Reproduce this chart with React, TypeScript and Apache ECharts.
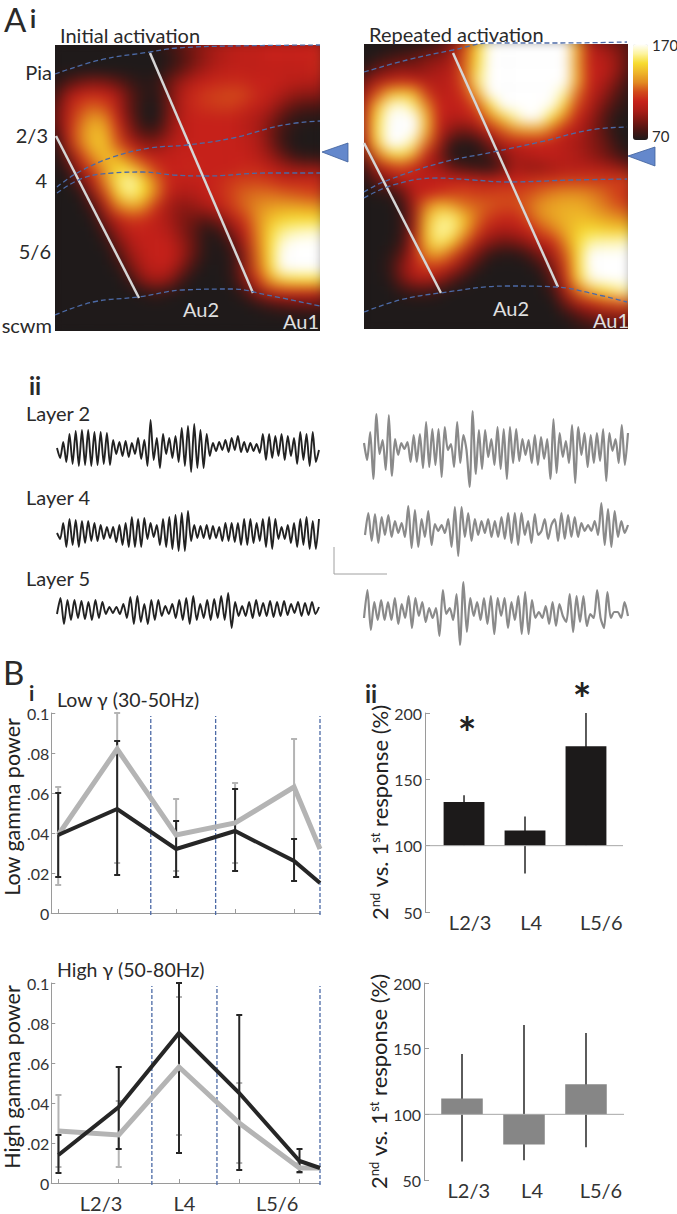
import React, { useEffect, useRef } from "react";
import * as echarts from "echarts";

const FONT = "Lato";
const heatColors = ["#1f1a1a","#4a1512","#7a1712","#a81c16","#c6211a","#d24a1a","#e28a20","#eeb428","#f7dc30","#fdf4a0","#ffffff"];

const heatInitial: number[][] = [
[70,70,70,70,70,70,70,70,72,78,85,92,98,102,106,108,108,110,110,110,110,110],
[70,70,70,70,70,70,70,70,70,72,80,88,96,102,106,108,108,110,110,110,110,112],
[70,70,70,70,70,70,70,70,70,76,84,94,100,106,108,108,108,108,108,108,108,112],
[72,80,88,92,90,84,76,72,74,86,98,106,110,112,112,112,110,110,108,106,104,104],
[78,98,110,112,110,100,84,74,72,88,104,112,116,118,120,118,112,108,102,96,94,94],
[84,104,118,124,120,104,84,72,70,88,104,112,114,116,116,112,108,102,92,84,80,80],
[86,106,124,136,130,110,88,72,70,90,106,110,110,110,110,106,102,94,82,74,72,72],
[80,106,128,142,138,116,94,80,80,94,106,110,110,110,110,106,102,90,78,72,70,70],
[72,100,126,142,142,122,106,96,94,102,108,110,110,110,110,108,104,92,78,70,70,70],
[70,88,114,132,142,138,124,112,108,108,110,110,110,110,110,110,106,98,88,78,74,74],
[70,76,100,118,136,150,146,130,116,110,110,112,110,110,110,112,112,108,102,98,96,98],
[70,70,86,106,130,154,162,150,128,112,108,108,110,112,116,118,118,116,112,112,112,112],
[70,70,72,94,120,148,158,150,128,108,102,104,108,112,118,124,126,126,124,122,120,118],
[70,70,70,80,104,128,138,132,114,100,94,96,102,108,116,124,130,134,136,136,134,132],
[70,70,70,72,92,108,116,114,108,100,92,88,84,92,104,116,130,142,148,150,150,150],
[70,70,70,70,80,98,108,110,108,104,94,84,72,76,92,108,128,148,158,162,164,164],
[70,70,70,70,72,88,102,108,110,108,98,86,72,70,80,100,126,150,166,170,170,170],
[70,70,70,70,70,80,96,106,110,110,100,84,72,70,74,94,124,150,170,170,170,170],
[70,70,70,70,70,72,88,102,108,106,92,76,70,70,74,94,122,148,168,170,170,170],
[70,70,70,70,70,70,76,92,98,94,78,70,70,70,72,90,112,132,146,150,150,150],
[70,70,70,70,70,70,70,72,76,72,70,70,70,70,70,76,92,104,110,110,108,106],
[70,70,70,70,70,70,70,70,70,70,70,70,70,70,70,70,72,76,80,82,84,84],
[70,70,70,70,70,70,70,70,70,70,70,70,70,70,70,70,70,70,70,70,70,70],
[70,70,70,70,70,70,70,70,70,70,70,70,70,70,70,70,70,70,70,70,70,70],
];

const heatRepeated: number[][] = [
[70,70,70,70,70,72,80,92,118,146,168,170,170,170,170,170,170,136,104,96,90,84],
[70,72,76,80,84,90,92,100,122,150,170,170,170,170,170,170,170,136,108,104,96,84],
[74,84,90,94,92,96,100,104,124,152,170,170,170,170,170,170,170,136,110,108,98,84],
[90,100,108,112,110,104,104,108,122,156,170,170,170,170,170,170,170,138,110,104,92,78],
[100,120,140,146,140,116,106,108,116,140,170,170,170,170,170,170,160,126,108,98,84,74],
[108,140,162,168,156,130,110,108,110,122,150,170,170,170,170,168,146,118,104,90,78,72],
[112,150,170,170,170,142,110,104,106,112,128,146,160,170,168,150,128,110,98,84,72,70],
[112,152,170,170,170,140,108,94,88,96,110,122,132,136,136,124,110,104,94,84,72,70],
[108,146,170,170,158,126,100,76,72,74,90,104,108,110,110,108,104,100,94,88,76,70],
[92,124,146,152,136,110,92,72,70,72,78,92,100,104,108,108,106,102,96,90,82,74],
[76,100,112,118,108,100,98,86,80,76,74,84,100,96,96,100,104,104,104,102,98,92],
[72,84,96,104,108,108,110,110,110,108,106,108,110,112,114,114,116,116,116,116,116,118],
[70,72,74,86,106,110,112,116,118,116,116,118,118,120,124,128,130,130,128,124,118,114],
[70,70,70,76,100,128,140,134,126,124,122,120,120,124,132,136,138,138,134,128,122,118],
[70,70,70,74,98,140,156,156,142,126,116,112,112,120,130,136,140,142,140,136,132,128],
[70,70,70,74,100,144,160,158,140,120,106,102,104,110,120,128,138,146,150,148,146,146],
[70,70,70,76,106,142,156,146,124,104,94,88,90,96,106,112,130,150,160,162,162,164],
[70,70,72,84,108,130,136,122,104,90,76,72,72,78,90,100,122,150,170,170,170,170],
[70,70,74,92,108,116,114,104,90,76,70,70,70,70,76,92,116,150,170,170,170,170],
[70,70,72,88,100,102,96,84,74,70,70,70,70,70,70,84,112,146,166,170,170,170],
[70,70,70,74,78,78,74,70,70,70,70,70,70,70,70,76,100,124,140,150,156,160],
[70,70,70,70,70,70,70,70,70,70,70,70,70,70,70,70,86,100,108,116,120,122],
[70,70,70,70,70,70,70,70,70,70,70,70,70,70,70,70,72,80,88,92,94,96],
[70,70,70,70,70,70,70,70,70,70,70,70,70,70,70,70,70,72,74,76,78,80],
];

const boundaries1 = [
  [[55,74],[100,60],[150,52],[177,48],[233,46],[320,45]],
  [[57,187],[77,173],[113,157],[150,148],[187,145],[233,138],[283,125],[320,121]],
  [[57,193],[83,178],[113,173],[143,172],[173,175],[207,176],[267,173],[320,173]],
  [[55,315],[93,302],[138,297],[183,290],[233,289],[267,295],[320,306]],
];
const columns1 = [[[56,136],[139,298]],[[150,53],[253,293]]];
const boundaries2 = [
  [[364,72],[407,60],[453,50],[490,43],[557,43],[627,42]],
  [[364,192],[383,182],[440,163],[493,152],[540,142],[590,130],[627,127]],
  [[364,198],[393,185],[437,178],[473,180],[507,182],[573,180],[627,179]],
  [[364,312],[400,300],[440,293],[507,286],[557,287],[590,293],[627,302]],
];
const columns2 = [[[364,143],[441,293]],[[453,53],[558,287]]];

const traceL2First = [0,-10,6,-14,14,-16,17,-18,18,-17,18,-18,16,-17,16,-16,15,-17,8,-6,6,-8,7,-9,5,-6,10,-11,8,-18,28,-12,10,-20,14,-6,10,-10,12,-14,20,-18,22,-24,24,-20,18,-20,14,-8,5,-3,6,-2,8,-4,10,-2,12,-4,6,-4,5,-3,4,-5,14,-12,14,-10,12,-8,14,-12,12,-8,10,-16,16,-12,14,-18,16,-14,-2];
const traceL4First = [0,-6,10,-14,14,-12,13,-14,12,-10,12,-8,10,-8,8,-6,6,-5,6,-9,8,-12,10,-14,16,-14,14,-14,15,-6,10,-4,8,-12,14,-14,16,-16,18,-18,20,-18,22,-8,8,-5,7,-5,8,-6,7,-5,6,-8,10,-8,10,-9,10,-12,14,-12,14,-10,10,-8,14,-14,16,-16,14,-6,6,-6,8,-10,10,-14,14,-12,16,-16,12,-16,14];
const traceL5First = [-4,12,-14,10,-10,10,-8,9,-9,8,-10,10,-8,8,-4,3,-3,3,-4,6,-8,13,-14,14,-12,6,-14,10,-10,10,-6,4,-4,6,-8,10,-10,12,-14,14,-10,6,-8,10,-10,11,-8,14,-10,17,-18,8,-6,4,-6,8,-8,10,-6,7,-6,9,-7,8,-6,9,-5,6,-3,8,-6,7,-5,8,-4,3];
const traceL2Second = [4,-13,15,-32,33,-7,7,-23,32,-29,8,-8,4,-2,5,-15,12,-15,13,-21,25,-20,18,-18,18,-30,20,-3,3,-20,25,-16,12,-3,-40,36,-27,17,-22,17,-10,8,-18,20,-22,18,-32,20,-16,18,-14,8,-8,7,-16,12,-18,10,-12,8,-32,28,-26,14,-10,6,-16,22,-36,20,-8,14,-20,12,-16,14,-14,18,-34,14,-4,8,-16,22,-18,14];
const traceL4Second = [-8,14,-14,13,-16,10,-8,12,-10,6,-6,4,-10,21,-21,17,-20,8,-10,16,-18,3,-4,2,-6,8,-20,20,-29,20,-10,14,-14,8,-8,6,-6,8,-10,6,-10,10,-12,14,-16,14,-18,14,-8,6,-16,13,-8,-4,8,-12,2,8,-14,14,-12,12,-10,10,-10,4,-4,2,-4,6,-8,24,-18,18,-20,16,-10,6,-6,2];
const traceL5Second = [-8,20,-20,8,-10,10,-10,8,-10,12,-14,6,-8,14,-18,12,-6,8,-12,2,-8,2,-26,20,-4,2,-10,16,-35,28,-22,12,-6,8,-10,12,-14,14,-24,12,-6,12,-18,8,-10,14,-24,18,-24,10,-8,-2,-8,4,-14,8,-16,6,-6,-12,16,-22,14,-12,14,-16,-4,-8,20,-8,-18,18,-8,-2,-2,-8,8,-6];

const xLowHigh = [0,1,2,3,4];
const lowBlackMean = [[0,.039],[1,.052],[2,.032],[3,.041],[4,.026],[4.44,.015]];
const lowGrayMean = [[0,.039],[1,.082],[2,.039],[3,.045],[4,.063],[4.44,.032]];
const lowBlackErr = [[0,.018,.060],[1,.019,.086],[2,.018,.046],[3,.021,.062],[4,.016,.037]];
const lowGrayErr = [[0,.014,.063],[1,.025,.100],[2,.021,.057],[3,.025,.065],[4,.037,.087]];
const highBlackMean = [[0,.014],[1,.038],[2,.075],[3,.045],[4,.011],[4.34,.0075]];
const highGrayMean = [[0,.026],[1,.024],[2,.058],[3,.030],[4,.0075],[4.34,.0075]];
const highBlackErr = [[0,.005,.024],[1,.017,.058],[2,.015,.100],[3,.0065,.084],[4,.0055,.017]];
const highGrayErr = [[0,.008,.044],[1,.008,.041],[2,.024,.093],[3,.010,.050],[4,.005,.010]];
const yPowerLabels = ["0",".02",".04",".06",".08","0.1"];
const lowDividers = [1.57,2.67,4.44];
const highDividers = [1.55,2.63,4.34];
const layerLabels = ["L2/3","L4","L5/6"];

const barsLow = [[0,133],[1,111.5],[2,175]];
const barsLowErr = [[0,100,138],[1,79,122],[2,100,200]];
const barsHigh = [[0,112],[1,77],[2,123]];
const barsHighErr = [[0,64,146],[1,65,168],[2,75,162]];

const texts: any[] = [
  ["A",4,19,"left",33,"normal"],["i",30,18,"left",24,"bold"],
  ["Initial activation",60,35,"left",20],["Repeated activation",369,34,"left",20],
  ["Pia",52,72,"right",20],["2/3",48,135,"right",20],["4",47,180,"right",20],["5/6",51,251,"right",20],["scwm",52,325,"right",20],
  ["Au2",183,309,"left",20,"normal","#e0e0e0"],["Au1",283,321,"left",20,"normal","#e0e0e0"],
  ["Au2",493,308,"left",20,"normal","#e0e0e0"],["Au1",593,320,"left",20,"normal","#e0e0e0"],
  ["170",652,45,"left",15],["70",652,136,"left",15],
  ["ii",29,385,"left",24,"bold"],
  ["Layer 2",26,413,"left",20],["Layer 4",26,497,"left",20],["Layer 5",26,578,"left",20],
  ["B",3,672,"left",33],["i",29,692,"left",21,"bold"],["ii",365,693,"left",24,"bold"],
  ["Low γ (30-50Hz)",57,699,"left",19.5],["High γ (50-80Hz)",57,969,"left",19.5],
  ["*",467,732,"center",44,"bold","#222"],["*",582,698,"center",44,"bold","#222"],
];

function buildMain(): any {
  const grid: any[] = [], xAxis: any[] = [], yAxis: any[] = [], series: any[] = [];
  const addGrid = (l: number, t: number, w: number, h: number, x: any, y: any) => {
    grid.push({ left: l, top: t, width: w, height: h, containLabel: false });
    xAxis.push({ gridIndex: grid.length - 1, ...x });
    yAxis.push({ gridIndex: grid.length - 1, ...y });
    return grid.length - 1;
  };
  const poly = (g: number, data: any, color: string, width: number, extra: any = {}) => {
    const { smooth, ...ls } = extra;
    series.push({ type: "line", xAxisIndex: g, yAxisIndex: g, data, showSymbol: false, symbol: "none", clip: false,
      lineStyle: { color, width, ...ls }, silent: true, ...(smooth ? { smooth } : {}) });
  };

  const overlay = (l: number, t: number, w: number, h: number, bounds: any, cols: any) => {
    const g = addGrid(l, t, w, h, { type: "value", min: l, max: l + w, show: false }, { type: "value", min: t, max: t + h, inverse: true, show: false });
    cols.forEach((c: any) => poly(g, c, "#d6d6d6", 2.5));
    bounds.forEach((b: any) => poly(g, b, "#4c6aa6", 1.3, { type: [5, 3], smooth: 0.4 }));
  };
  overlay(55, 45, 265, 286, boundaries1, columns1);
  overlay(364, 44, 264, 285, boundaries2, columns2);

  const trace = (l: number, w: number, c: number, vals: number[], color: string, width: number) => {
    const R = 45;
    const g = addGrid(l, c - R, w, 2 * R, { type: "category", data: vals.map((_, i) => i), boundaryGap: false, show: false }, { type: "value", min: -R, max: R, show: false });
    poly(g, vals, color, width, { join: "round", smooth: 0.25 });
  };
  trace(57, 262, 448, traceL2First, "#222", 1.9);
  trace(57, 262, 533, traceL4First, "#222", 1.9);
  trace(57, 262, 610, traceL5First, "#222", 1.9);
  trace(364, 264, 447, traceL2Second, "#8a8a8a", 2.2);
  trace(365, 263, 527, traceL4Second, "#8a8a8a", 2.2);
  trace(364, 264, 610, traceL5Second, "#8a8a8a", 2.2);

  const errSeries = (g: number, data: any, color: string, width: number, cap = 3) =>
    series.push({ type: "custom", xAxisIndex: g, yAxisIndex: g, data, clip: false, silent: true, encode: { x: 0, y: [1, 2] },
      renderItem: (_: any, api: any) => {
        const x = api.value(0), a = api.coord([x, api.value(1)]), b = api.coord([x, api.value(2)]);
        const st = { stroke: color, lineWidth: width, fill: "none" };
        const ln = (x1: number, y1: number, x2: number, y2: number) => ({ type: "line", shape: { x1, y1, x2, y2 }, style: st });
        const kids = [ln(a[0], a[1], b[0], b[1])];
        if (cap) { kids.push(ln(a[0] - cap, a[1], a[0] + cap, a[1])); kids.push(ln(b[0] - cap, b[1], b[0] + cap, b[1])); }
        return { type: "group", children: kids };
      } });

  const axisGray = { lineStyle: { color: "#9a9a9a", width: 1 } };
  const powerChart = (top: number, xMin: number, xMax: number, name: string, withLabels: number[] | null, dividers: number[], bk: any, gy: any, bkE: any, gyE: any) => {
    const g = addGrid(50, top, 270, 200, {
      type: "value", min: xMin, max: xMax, splitLine: { show: false }, axisLine: { show: true, onZero: false, ...axisGray },
      axisTick: { show: true, inside: true, length: 4, customValues: xLowHigh, ...axisGray },
      axisLabel: withLabels
        ? { show: true, customValues: withLabels, formatter: (v: number) => layerLabels[withLabels.indexOf(v)], fontFamily: FONT, fontSize: 20, color: "#333", margin: 10, hideOverlap: false }
        : { show: false },
    }, {
      type: "value", min: 0, max: 0.1, interval: 0.02, splitLine: { show: false }, axisLine: { show: true, onZero: false, ...axisGray },
      axisTick: { show: true, inside: true, length: 4, ...axisGray },
      axisLabel: { fontFamily: FONT, fontSize: 16, color: "#333", margin: 2, formatter: (v: number) => yPowerLabels[Math.round(v / 0.02)] },
      name, nameLocation: "middle", nameGap: 28, nameTextStyle: { fontFamily: FONT, fontSize: 21.5, color: "#222", padding: [0, 0, 0, 12] },
    });
    dividers.forEach((d) => poly(g, [[d, -0.001], [d, 0.0985]], "#4c6aa6", 1.3, { type: [4, 2] }));
    errSeries(g, gyE, "#b4b4b4", 2);
    poly(g, gy, "#b4b4b4", 5, { join: "miter" });
    errSeries(g, bkE, "#262626", 2);
    poly(g, bk, "#262626", 4, { join: "miter" });
  };
  powerChart(713, -0.118, 4.44, "Low gamma power", null, lowDividers, lowBlackMean, lowGrayMean, lowBlackErr, lowGrayErr);
  powerChart(983, -0.12, 4.34, "High gamma power", [0.706, 2.09, 3.63], highDividers, highBlackMean, highGrayMean, highBlackErr, highGrayErr);

  const barChart = (left: number, top: number, w: number, h: number, xMin: number, xMax: number, labelsAt: number[], bars: any, errs: any, fill: string, half: number) => {
    const g = addGrid(left, top, w, h, {
      type: "value", min: xMin, max: xMax, splitLine: { show: false }, axisLine: { show: false, onZero: false }, axisTick: { show: false },
      axisLabel: { show: true, customValues: labelsAt, formatter: (v: number) => layerLabels[labelsAt.indexOf(v)], fontFamily: FONT, fontSize: 20, color: "#333", margin: 0, hideOverlap: false },
    }, {
      type: "value", min: 50, max: 200, interval: 50, splitLine: { show: false }, axisLine: { show: true, onZero: false, ...axisGray },
      axisTick: { show: true, inside: true, length: 5, ...axisGray },
      axisLabel: { fontFamily: FONT, fontSize: 16, color: "#333", margin: 3 },
      name: "2{s|nd} vs. 1{s|st} response (%)", nameLocation: "middle", nameGap: 20,
      nameTextStyle: { fontFamily: FONT, fontSize: 22, color: "#222", rich: { s: { fontFamily: FONT, fontSize: 13, color: "#222", verticalAlign: "top" } } },
    });
    errSeries(g, errs, "#333", 1.6, 0);
    series.push({ type: "custom", xAxisIndex: g, yAxisIndex: g, data: bars, silent: true, encode: { x: 0, y: 1 },
      renderItem: (_: any, api: any) => {
        const x = api.value(0), a = api.coord([x - half, 100]), b = api.coord([x + half, api.value(1)]);
        return { type: "rect", shape: { x: a[0], y: Math.min(a[1], b[1]), width: b[0] - a[0], height: Math.abs(a[1] - b[1]) }, style: { fill } };
      } });
    poly(g, [[xMin, 100], [xMax, 100]], "#a8a8a8", 1);
  };
  barChart(425, 713, 198, 199, -0.64, 2.607, [0.1, 1.1, 2.25], barsLow, barsLowErr, "#1c1a1a", 0.335);
  barChart(424, 983, 200, 197, -0.613, 2.613, [0.11, 1.13, 2.24], barsHigh, barsHighErr, "#868686", 0.335);

  const graphic: any[] = texts.map(([text, x, y, align, size, weight, color]) => ({
    type: "text", x, y, silent: true,
    style: { text, fill: color || "#2a2a2a", fontFamily: FONT, fontSize: size, fontWeight: weight || "normal", textAlign: align, textVerticalAlign: "middle" },
  }));
  const tri = (pts: number[][]) => graphic.push({ type: "polygon", silent: true, shape: { points: pts }, style: { fill: "#6488cc", stroke: "#3f5f9a", lineWidth: 0.8 } });
  tri([[322, 152], [348, 143], [348, 162]]);
  tri([[628, 156], [655, 147], [655, 166]]);
  graphic.push({ type: "polyline", silent: true, shape: { points: [[334, 547], [334, 574], [387, 574]] }, style: { stroke: "#a0a0a0", lineWidth: 1, fill: "none" } });

  return {
    animation: false, backgroundColor: "transparent", grid, xAxis, yAxis, series, graphic,
    visualMap: [{ type: "continuous", min: 70, max: 170, seriesIndex: [], left: 633, top: 44, itemWidth: 15, itemHeight: 96, padding: 0, calculable: false, showLabel: false, realtime: false, inRange: { color: heatColors }, hoverLink: false }],
  };
}

function buildHeat(rows: number[][], pad: number, w: number, h: number): any {
  const cw = w / (rows[0].length - 1), ch = h / (rows.length - 1);
  const data: number[][] = [];
  rows.forEach((r, j) => r.forEach((v, i) => data.push([i, j, v])));
  return {
    animation: false,
    grid: { left: pad - cw / 2, top: pad - ch / 2, width: w + cw, height: h + ch },
    xAxis: { type: "category", data: rows[0].map((_, i) => i), show: false },
    yAxis: { type: "category", data: rows.map((_, i) => i), inverse: true, show: false },
    visualMap: { show: false, min: 70, max: 170, inRange: { color: heatColors } },
    series: [{ type: "heatmap", data, silent: true, itemStyle: { borderWidth: 0 } }],
  };
}

const PAD = 24;
function Heat({ rows, l, t, w, h }: { rows: number[][]; l: number; t: number; w: number; h: number }) {
  const ref = useRef<HTMLDivElement>(null);
  useEffect(() => {
    const c = echarts.init(ref.current!, undefined, { renderer: "svg" });
    c.setOption(buildHeat(rows, PAD, w, h));
    return () => c.dispose();
  }, []);
  return (
    <div style={{ position: "absolute", left: l, top: t, width: w, height: h, overflow: "hidden", background: "#1f1a1a" }}>
      <div ref={ref} style={{ position: "absolute", left: -PAD, top: -PAD, width: w + 2 * PAD, height: h + 2 * PAD, filter: "blur(7px)" }} />
    </div>
  );
}

export default function App() {
  const ref = useRef<HTMLDivElement>(null);
  useEffect(() => {
    const c = echarts.init(ref.current!, undefined, { renderer: "svg" });
    c.setOption(buildMain());
    return () => c.dispose();
  }, []);
  return (
    <div style={{ position: "absolute", left: 0, top: 0, width: 677, height: 1214, background: "#fff", overflow: "hidden" }}>
      <Heat rows={heatInitial} l={55} t={45} w={265} h={286} />
      <Heat rows={heatRepeated} l={364} t={44} w={264} h={285} />
      <div ref={ref} style={{ position: "absolute", left: 0, top: 0, width: 677, height: 1214 }} />
    </div>
  );
}
